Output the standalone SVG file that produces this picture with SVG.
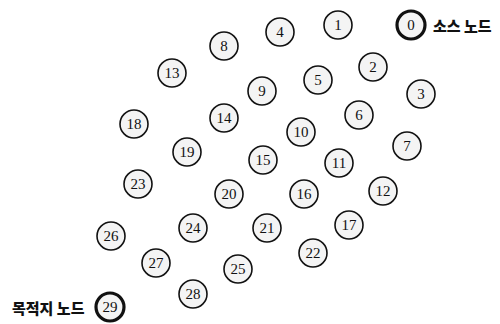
<svg xmlns="http://www.w3.org/2000/svg" width="500" height="324" viewBox="0 0 500 324">
<style>
.n circle{fill:#f4f4f4;stroke:#111;stroke-width:1.6}
.n text{font-family:"Liberation Serif","Times New Roman",serif;font-size:15px;fill:#111;text-anchor:middle;dominant-baseline:central}
.t circle{stroke-width:3.2}
.lbl{font-family:"Noto Sans CJK KR","Noto Sans",sans-serif;font-size:15px;font-weight:900;fill:#111;dominant-baseline:central}
</style>
<rect width="500" height="324" fill="#fff"/>
<g id="connectors"></g>
<g id="n0" class="n t"><circle cx="411" cy="25" r="14"/><text x="411" y="25">0</text></g>
<g id="n1" class="n"><circle cx="338" cy="25" r="14"/><text x="338" y="25">1</text></g>
<g id="n2" class="n"><circle cx="373" cy="67" r="14"/><text x="373" y="67">2</text></g>
<g id="n3" class="n"><circle cx="421" cy="94" r="14"/><text x="421" y="94">3</text></g>
<g id="n4" class="n"><circle cx="280" cy="32" r="14"/><text x="280" y="32">4</text></g>
<g id="n5" class="n"><circle cx="318" cy="80" r="14"/><text x="318" y="80">5</text></g>
<g id="n6" class="n"><circle cx="359" cy="115" r="14"/><text x="359" y="115">6</text></g>
<g id="n7" class="n"><circle cx="407" cy="146" r="14"/><text x="407" y="146">7</text></g>
<g id="n8" class="n"><circle cx="224" cy="46" r="14"/><text x="224" y="46">8</text></g>
<g id="n9" class="n"><circle cx="262" cy="91" r="14"/><text x="262" y="91">9</text></g>
<g id="n10" class="n"><circle cx="301" cy="132" r="14"/><text x="301" y="132">10</text></g>
<g id="n11" class="n"><circle cx="339" cy="163" r="14"/><text x="339" y="163">11</text></g>
<g id="n12" class="n"><circle cx="383" cy="191" r="14"/><text x="383" y="191">12</text></g>
<g id="n13" class="n"><circle cx="172" cy="73" r="14"/><text x="172" y="73">13</text></g>
<g id="n14" class="n"><circle cx="224" cy="118" r="14"/><text x="224" y="118">14</text></g>
<g id="n15" class="n"><circle cx="263" cy="160" r="14"/><text x="263" y="160">15</text></g>
<g id="n16" class="n"><circle cx="304" cy="194" r="14"/><text x="304" y="194">16</text></g>
<g id="n17" class="n"><circle cx="349" cy="225" r="14"/><text x="349" y="225">17</text></g>
<g id="n18" class="n"><circle cx="134" cy="124" r="14"/><text x="134" y="124">18</text></g>
<g id="n19" class="n"><circle cx="187" cy="152" r="14"/><text x="187" y="152">19</text></g>
<g id="n20" class="n"><circle cx="229" cy="194" r="14"/><text x="229" y="194">20</text></g>
<g id="n21" class="n"><circle cx="267" cy="228" r="14"/><text x="267" y="228">21</text></g>
<g id="n22" class="n"><circle cx="313" cy="253" r="14"/><text x="313" y="253">22</text></g>
<g id="n23" class="n"><circle cx="138" cy="184" r="14"/><text x="138" y="184">23</text></g>
<g id="n24" class="n"><circle cx="193" cy="228" r="14"/><text x="193" y="228">24</text></g>
<g id="n25" class="n"><circle cx="238" cy="269" r="14"/><text x="238" y="269">25</text></g>
<g id="n26" class="n"><circle cx="111" cy="236" r="14"/><text x="111" y="236">26</text></g>
<g id="n27" class="n"><circle cx="156" cy="263" r="14"/><text x="156" y="263">27</text></g>
<g id="n28" class="n"><circle cx="193" cy="294" r="14"/><text x="193" y="294">28</text></g>
<g id="n29" class="n t"><circle cx="110" cy="307" r="14"/><text x="110" y="307">29</text></g>
<text class="lbl" x="433" y="25">소스 노드</text>
<text class="lbl" x="12" y="307">목적지 노드</text>
</svg>
